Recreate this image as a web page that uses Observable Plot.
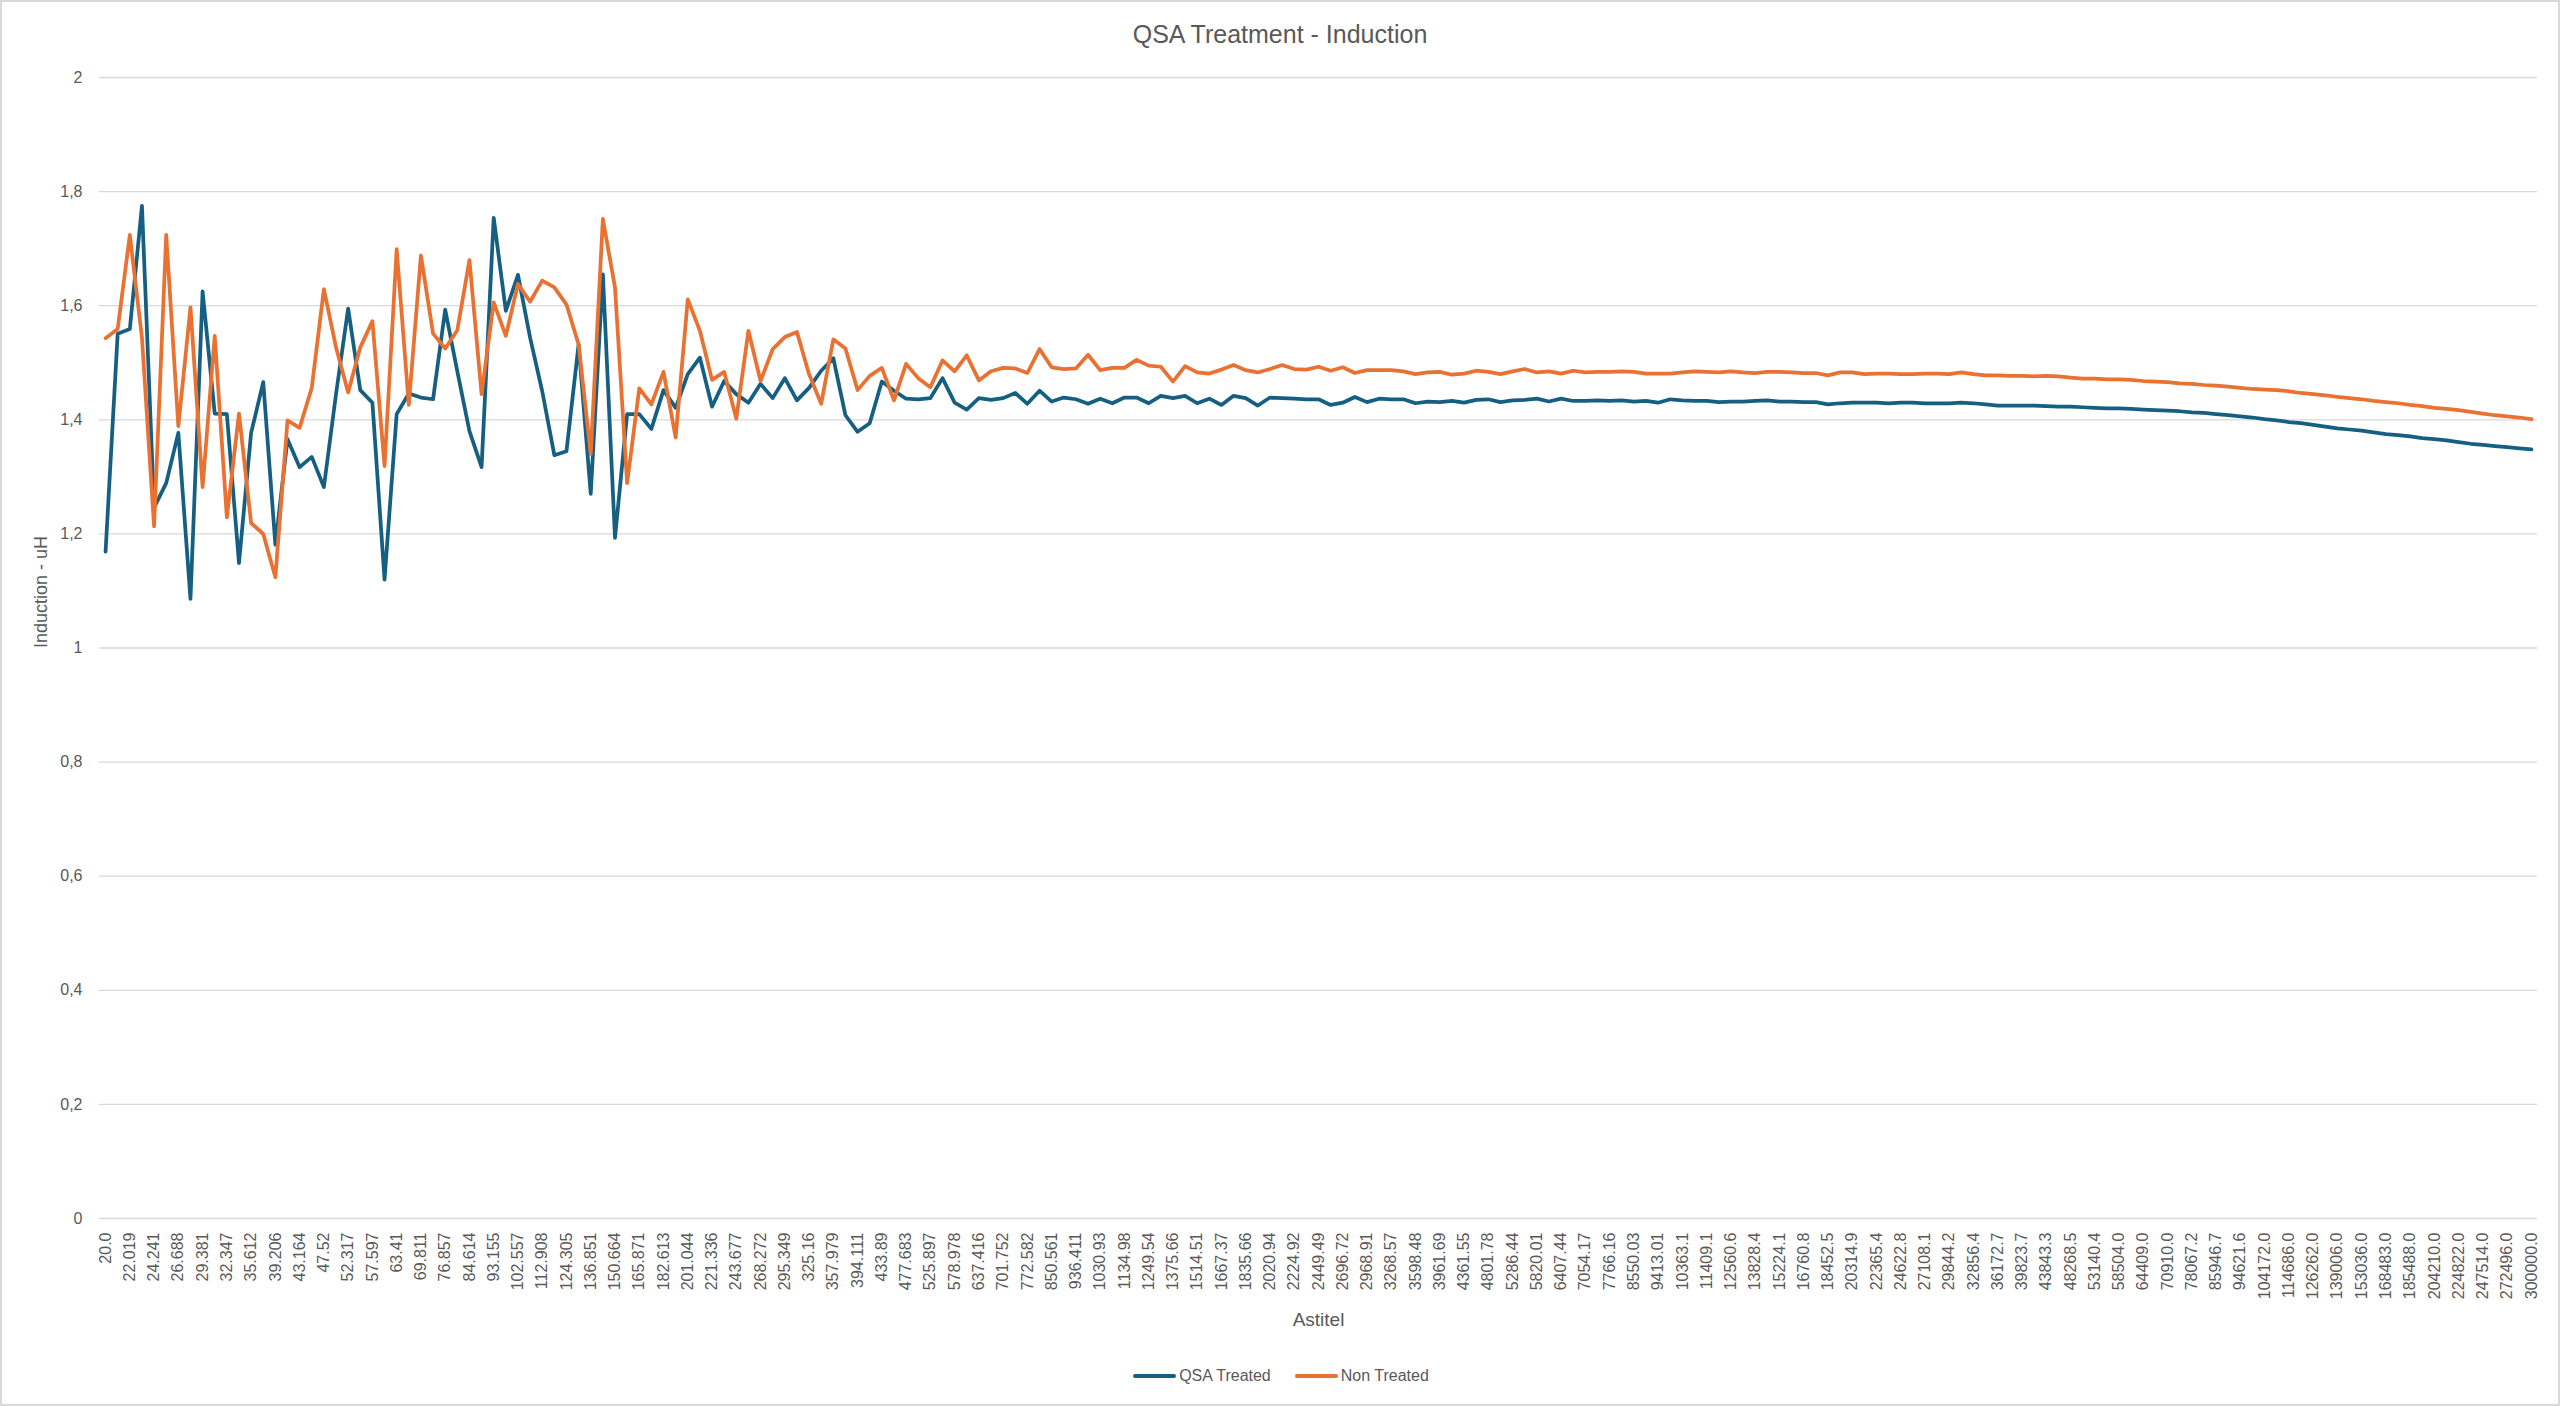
<!DOCTYPE html>
<html>
<head>
<meta charset="utf-8">
<script src="https://cdn.jsdelivr.net/npm/d3@7"></script>
<script src="https://cdn.jsdelivr.net/npm/@observablehq/plot@0.6"></script>
<style>
  html, body { margin: 0; padding: 0; background: #fff; }
  #page { position: relative; width: 2560px; height: 1406px; overflow: hidden; background: #fff; }
  #frame { position: absolute; left: 0; top: 0; width: 2560px; height: 1406px; box-sizing: border-box; border: 2px solid #d9d9d9; pointer-events: none; }
  #title { height: 30px; padding-top: 19px; padding-bottom: 3px; line-height: 30px; text-align: center; font-family: "Liberation Sans", Arial, sans-serif; font-size: 25px; color: #595959; }
  #legend { margin-top: 18px; height: 32px; display: flex; justify-content: center; align-items: center; gap: 24px; font-family: "Liberation Sans", Arial, sans-serif; font-size: 16px; color: #595959; padding-left: 2px; }
  .item { display: flex; align-items: center; }
  .sw { display: inline-block; width: 43px; height: 4px; border-radius: 2px; margin-right: 3px; }
</style>
</head>
<body>
<div id="page">
  <div id="title">QSA Treatment - Induction</div>
  <div id="chart"></div>
  <div id="legend"></div>
  <div id="frame"></div>
</div>
<script>
// Tick labels (every other category is labelled)
const tickLabels = [
  "20.0","22.019","24.241","26.688","29.381","32.347","35.612","39.206","43.164","47.52",
  "52.317","57.597","63.41","69.811","76.857","84.614","93.155","102.557","112.908","124.305",
  "136.851","150.664","165.871","182.613","201.044","221.336","243.677","268.272","295.349","325.16",
  "357.979","394.111","433.89","477.683","525.897","578.978","637.416","701.752","772.582","850.561",
  "936.411","1030.93","1134.98","1249.54","1375.66","1514.51","1667.37","1835.66","2020.94","2224.92",
  "2449.49","2696.72","2968.91","3268.57","3598.48","3961.69","4361.55","4801.78","5286.44","5820.01",
  "6407.44","7054.17","7766.16","8550.03","9413.01","10363.1","11409.1","12560.6","13828.4","15224.1",
  "16760.8","18452.5","20314.9","22365.4","24622.8","27108.1","29844.2","32856.4","36172.7","39823.7",
  "43843.3","48268.5","53140.4","58504.0","64409.0","70910.0","78067.2","85946.7","94621.6","104172.0",
  "114686.0","126262.0","139006.0","153036.0","168483.0","185488.0","204210.0","224822.0","247514.0","272496.0",
  "300000.0"
];

// Series: QSA Treated
const qsaTreated = [
  1.169,1.551,1.559,1.775,1.246,1.289,1.377,1.086,1.625,1.411,
  1.410,1.149,1.377,1.466,1.181,1.366,1.317,1.335,1.282,1.445,
  1.595,1.452,1.430,1.120,1.410,1.446,1.439,1.436,1.593,1.485,
  1.380,1.317,1.754,1.591,1.654,1.544,1.450,1.338,1.345,1.532,
  1.270,1.655,1.193,1.410,1.410,1.384,1.452,1.421,1.480,1.509,
  1.423,1.468,1.445,1.430,1.463,1.438,1.473,1.434,1.456,1.486,
  1.508,1.408,1.379,1.394,1.467,1.451,1.437,1.436,1.438,1.473,
  1.430,1.418,1.438,1.435,1.438,1.447,1.428,1.451,1.432,1.439,
  1.436,1.428,1.437,1.429,1.439,1.439,1.429,1.442,1.438,1.442,
  1.429,1.437,1.426,1.442,1.438,1.425,1.439,1.438,1.437,1.436,
  1.436,1.426,1.430,1.440,1.431,1.437,1.436,1.436,1.429,1.432,
  1.431,1.433,1.430,1.435,1.436,1.431,1.434,1.435,1.437,1.432,
  1.437,1.433,1.433,1.434,1.433,1.434,1.432,1.433,1.430,1.436,
  1.434,1.433,1.433,1.431,1.432,1.432,1.433,1.434,1.432,1.432,
  1.431,1.431,1.427,1.429,1.430,1.430,1.430,1.429,1.430,1.430,
  1.429,1.429,1.429,1.430,1.429,1.427,1.425,1.425,1.425,1.425,
  1.424,1.423,1.423,1.422,1.421,1.420,1.420,1.419,1.418,1.417,
  1.416,1.415,1.413,1.412,1.410,1.408,1.406,1.404,1.401,1.399,
  1.396,1.394,1.391,1.388,1.385,1.383,1.381,1.378,1.375,1.373,
  1.371,1.368,1.366,1.364,1.361,1.358,1.356,1.354,1.352,1.350,
  1.348
];

// Series: Non Treated
const nonTreated = [
  1.543,1.559,1.724,1.544,1.213,1.724,1.389,1.597,1.282,1.547,
  1.229,1.411,1.219,1.200,1.124,1.399,1.386,1.456,1.629,1.527,
  1.448,1.527,1.573,1.319,1.699,1.426,1.688,1.551,1.525,1.557,
  1.680,1.445,1.606,1.547,1.638,1.607,1.644,1.632,1.602,1.532,
  1.340,1.752,1.632,1.289,1.455,1.427,1.484,1.369,1.611,1.556,
  1.470,1.484,1.402,1.556,1.468,1.524,1.545,1.554,1.480,1.428,
  1.541,1.525,1.452,1.477,1.491,1.434,1.498,1.473,1.457,1.504,
  1.485,1.513,1.469,1.485,1.491,1.490,1.482,1.524,1.492,1.489,
  1.490,1.514,1.487,1.491,1.491,1.505,1.495,1.493,1.467,1.494,
  1.483,1.481,1.488,1.496,1.487,1.483,1.489,1.496,1.489,1.488,
  1.493,1.486,1.492,1.482,1.487,1.487,1.487,1.485,1.480,1.483,
  1.484,1.479,1.481,1.486,1.484,1.480,1.485,1.489,1.483,1.485,
  1.481,1.486,1.483,1.484,1.484,1.485,1.484,1.481,1.481,1.481,
  1.483,1.485,1.484,1.483,1.485,1.483,1.482,1.484,1.484,1.483,
  1.482,1.482,1.478,1.483,1.483,1.480,1.481,1.481,1.480,1.480,
  1.481,1.481,1.480,1.483,1.480,1.478,1.478,1.477,1.477,1.476,
  1.477,1.476,1.474,1.472,1.472,1.471,1.471,1.470,1.468,1.467,
  1.466,1.464,1.463,1.461,1.460,1.458,1.456,1.454,1.453,1.452,
  1.450,1.447,1.445,1.443,1.440,1.438,1.436,1.433,1.431,1.429,
  1.426,1.424,1.421,1.419,1.417,1.414,1.411,1.408,1.406,1.404,
  1.401
];

const yTicks = [0, 0.2, 0.4, 0.6, 0.8, 1, 1.2, 1.4, 1.6, 1.8, 2];
const seriesNames = ["QSA Treated", "Non Treated"];
const seriesColors = ["#156082", "#E97132"];

const categoryIndex = qsaTreated.map((_, i) => i);
const labelledIndex = tickLabels.map((_, k) => 2 * k);
const fmtY = d => String(+d.toFixed(1)).replace(".", ",");

const H = 1290;
const chart = Plot.plot({
  width: 2560,
  height: H,
  marginLeft: 99,
  marginRight: 23,
  marginTop: 25,
  marginBottom: H - 1166,
  x: { type: "point", domain: categoryIndex, padding: 0.5, round: false },
  y: { domain: [0, 2] },
  style: {
    fontFamily: "'Liberation Sans', Arial, sans-serif",
    fontSize: "16px",
    color: "#595959",
    background: "white",
    overflow: "visible"
  },
  marks: [
    Plot.gridY(yTicks, { stroke: "#d9d9d9", strokeOpacity: 1, strokeWidth: 1.3 }),
    Plot.axisY(yTicks, { tickSize: 0, tickPadding: 17, tickFormat: fmtY, label: null, fontSize: 16 }),
    Plot.axisX(labelledIndex, {
      tickSize: 0, tickPadding: 14, tickRotate: -90,
      textAnchor: "end", lineAnchor: "middle",
      tickFormat: i => tickLabels[i / 2], label: null, fontSize: 16
    }),
    Plot.text(["Induction - uH"], { frameAnchor: "left", dx: -58, rotate: -90, fontSize: 18, fill: "#595959" }),
    Plot.text(["Astitel"], { frameAnchor: "bottom", dy: 107, fontSize: 19, fill: "#595959" }),
    Plot.line(qsaTreated, { x: (d, i) => i, y: d => d, stroke: seriesColors[0], strokeWidth: 3.75, strokeLinejoin: "round", strokeLinecap: "round" }),
    Plot.line(nonTreated, { x: (d, i) => i, y: d => d, stroke: seriesColors[1], strokeWidth: 3.75, strokeLinejoin: "round", strokeLinecap: "round" })
  ]
});
document.getElementById("chart").appendChild(chart);

const legend = document.getElementById("legend");
seriesNames.forEach((name, k) => {
  const item = document.createElement("div");
  item.className = "item";
  const sw = document.createElement("span");
  sw.className = "sw";
  sw.style.background = seriesColors[k];
  const t = document.createElement("span");
  t.textContent = name;
  item.appendChild(sw);
  item.appendChild(t);
  legend.appendChild(item);
});
</script>
</body>
</html>
